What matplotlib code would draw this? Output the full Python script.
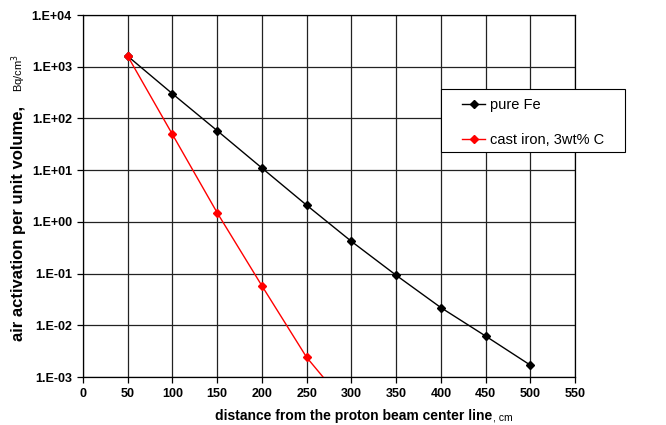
import math
import matplotlib.pyplot as plt
from matplotlib.patches import Rectangle
from matplotlib.ticker import FixedLocator, FuncFormatter

plt.rcParams['font.family'] = ['Liberation Sans', 'DejaVu Sans']

# distance from beam line, cm
dist_fe = [50, 100, 150, 200, 250, 300, 350, 400, 450, 500]
act_fe = [1.6e3, 300, 58, 11, 2.1, 0.42, 0.093, 0.022, 0.0062, 0.0017]

dist_ci = [50, 100, 150, 200, 250, 300]
act_ci = [1.6e3, 49, 1.5, 0.058, 0.0024, 0.00022]

y_ticks = [1e-3, 1e-2, 1e-1, 1e0, 1e1, 1e2, 1e3, 1e4]
x_ticks = list(range(0, 551, 50))

W, H = 666, 425


def sci_label(v, pos):
    exp = int(round(math.log10(v)))
    sign = '+' if exp >= 0 else '-'
    return '1.E%s%02d' % (sign, abs(exp))


fig = plt.figure(figsize=(W / 100, H / 100), dpi=100)
ax = fig.add_axes([83 / W, 1 - 377 / H, 492 / W, 362 / H])

ax.plot(dist_fe, act_fe, color='black', lw=1.0, marker='D', ms=4.5,
        label='pure Fe', zorder=3)
ax.plot(dist_ci, act_ci, color='red', lw=1.0, marker='D', ms=4.5,
        label='cast iron, 3wt% C', zorder=3)

ax.set_yscale('log')
ax.set_ylim(1e-3, 1e4)
ax.set_xlim(0, 550)
ax.yaxis.set_major_locator(FixedLocator(y_ticks))
ax.yaxis.set_minor_locator(FixedLocator([]))
ax.yaxis.set_major_formatter(FuncFormatter(sci_label))
ax.set_xticks(x_ticks)

ax.grid(True, which='major', color='#222222', lw=0.9)
for s in ax.spines.values():
    s.set_color('black')
    s.set_linewidth(0.9)
ax.tick_params(axis='both', direction='out', length=4, width=0.9,
               labelsize=9, pad=4)
for lab in ax.get_xticklabels() + ax.get_yticklabels():
    lab.set_fontweight('bold')

# legend box drawn separately so it can be wider than the entries need
box = Rectangle((441 / W, 1 - 152 / H), 184 / W, 63 / H,
                transform=fig.transFigure, facecolor='white',
                edgecolor='black', lw=0.8, zorder=10, clip_on=False)
ax.add_artist(box)
leg = ax.legend(loc='upper left', bbox_to_anchor=(462 / W, 1 - 98 / H),
                bbox_transform=fig.transFigure, frameon=False, fontsize=10.5,
                labelspacing=1.45, handlelength=1.6, handletextpad=0.3,
                borderpad=0, borderaxespad=0)
leg.set_zorder(11)

# axis titles: bold text followed by a smaller plain unit
xlab = fig.text(215 / W, 1 - 416 / H, 'distance from the proton beam center line',
                ha='left', va='center', fontsize=10, fontweight='bold')
ylab = fig.text(19 / W, 1 - 341 / H, 'air activation per unit volume,',
                ha='center', va='bottom', rotation=90, fontsize=12,
                fontweight='bold')

fig.canvas.draw()
r = fig.canvas.get_renderer()
xb = xlab.get_window_extent(r)
yb = ylab.get_window_extent(r)
fig.text((xb.x1 + 1) / W, 1 - 417 / H, ', cm', ha='left', va='center',
         fontsize=7.5)
fig.text(19 / W, (yb.y1 + 14) / H, r'Bq/cm$^3$', ha='center', va='bottom',
         rotation=90, fontsize=8)

fig.savefig('out.png', dpi=100)
